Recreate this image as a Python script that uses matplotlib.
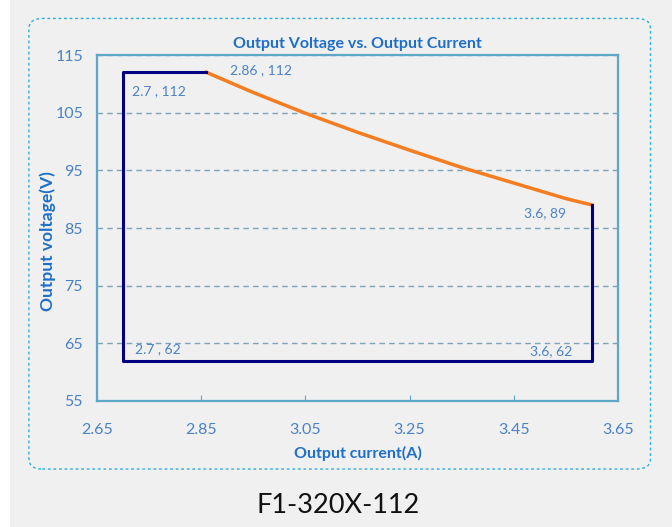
import matplotlib.pyplot as plt
from matplotlib.patches import FancyBboxPatch, Rectangle

plt.rcParams['font.family'] = ['Lato', 'DejaVu Sans']

# orange curve (constant power region)
curve_x = [2.86, 2.95, 3.05, 3.15, 3.25, 3.35, 3.45, 3.55, 3.6]
curve_y = [112, 108.5, 104.9, 101.6, 98.5, 95.5, 92.8, 90.1, 89]

# navy operating boundary
box_x = [2.86, 2.7, 2.7, 3.6, 3.6]
box_y = [112, 112, 62, 62, 89]

# point labels: (text, x, y)
labels = [
    ('2.86 , 112', 2.905, 112.3),
    ('2.7 , 112', 2.717, 108.8),
    ('3.6, 89', 3.47, 87.6),
    ('2.7 , 62', 2.723, 64.0),
    ('3.6, 62', 3.481, 63.6),
]

xticks = [2.65, 2.85, 3.05, 3.25, 3.45, 3.65]
yticks = [55, 65, 75, 85, 95, 105, 115]

bg = '#f0f0f0'
spine_col = '#5ea7c6'
text_col = '#4a82c8'
title_col = '#1f6fc8'

fig = plt.figure(figsize=(6.72, 5.27), dpi=100, facecolor=bg)
fig.patches.append(Rectangle((0, 0), 10 / 672, 1, transform=fig.transFigure,
                             facecolor='white', edgecolor='none', zorder=0))
fig.patches.append(FancyBboxPatch((0.043, 0.11), 0.925, 0.855,
                                  boxstyle='round,pad=0,rounding_size=0.02',
                                  transform=fig.transFigure, facecolor='none',
                                  edgecolor='#2ab0e0', linestyle=(0, (2, 2)),
                                  linewidth=1.0, zorder=1))

ax = fig.add_axes([0.1443, 0.2391, 0.7753, 0.6565])
ax.set_facecolor(bg)

ax.plot(curve_x, curve_y, color='#f57c1f', linewidth=2.5, zorder=3)
ax.plot(box_x, box_y, color='#000080', linewidth=2.2, zorder=4)

for txt, x, y in labels:
    ax.text(x, y, txt, color=text_col, fontsize=10, ha='left', va='center', zorder=5)

ax.set_xlim(2.65, 3.65)
ax.set_ylim(55, 115)
ax.set_xticks(xticks)
ax.set_yticks(yticks)
ax.set_xticklabels([f'{t:.2f}' for t in xticks])
ax.tick_params(axis='x', direction='in', length=4, color=spine_col, pad=16,
               labelcolor=text_col, labelsize=11.5)
ax.tick_params(axis='y', length=0, pad=10, labelcolor=text_col, labelsize=11.5)

ax.grid(axis='y', color='#7fa3b8', linestyle=(0, (4, 3)), linewidth=1.0)
ax.set_axisbelow(True)
for s in ax.spines.values():
    s.set_color(spine_col)
    s.set_linewidth(1.6)

ax.set_title('Output Voltage vs. Output Current', color=title_col, fontsize=11.5,
             fontweight='bold', pad=5)
ax.set_xlabel('Output current(A)', color=title_col, fontsize=11.5, fontweight='bold',
              labelpad=6)
ax.set_ylabel('Output voltage(V)', color=title_col, fontsize=12.5, fontweight='bold',
              va='center')
ax.yaxis.set_label_coords(-0.094, 0.462)

fig.text(0.503, 0.04, 'F1-320X-112', color='#111111', fontsize=19.5, ha='center', va='center')

fig.savefig('out.png', dpi=100, facecolor=bg)
